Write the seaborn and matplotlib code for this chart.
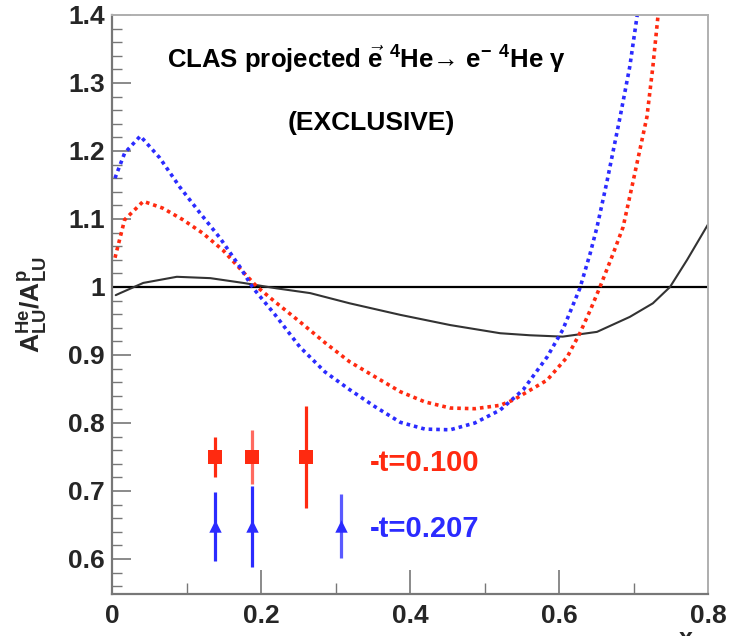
import numpy as np
import pandas as pd
import matplotlib
matplotlib.use("Agg")
import matplotlib.pyplot as plt
from matplotlib.ticker import MultipleLocator
import seaborn as sns

# ---- data ----
blue_x = [0.004, 0.017, 0.038, 0.064, 0.091, 0.118, 0.145, 0.172, 0.189, 0.219, 0.252, 0.286,
          0.319, 0.353, 0.387, 0.420, 0.454, 0.487, 0.521, 0.552, 0.584, 0.605, 0.628, 0.642,
          0.651, 0.664, 0.682, 0.695, 0.705]
blue_y = [1.160, 1.197, 1.222, 1.190, 1.147, 1.109, 1.072, 1.029, 0.999, 0.959, 0.912, 0.875,
          0.849, 0.824, 0.801, 0.791, 0.790, 0.800, 0.819, 0.849, 0.897, 0.937, 0.998, 1.050,
          1.088, 1.153, 1.250, 1.324, 1.400]

red_x = [0.004, 0.017, 0.042, 0.068, 0.095, 0.122, 0.149, 0.176, 0.195, 0.219, 0.252, 0.286,
         0.319, 0.353, 0.387, 0.420, 0.454, 0.487, 0.521, 0.539, 0.584, 0.611, 0.628, 0.642,
         0.655, 0.673, 0.686, 0.699, 0.718, 0.726, 0.733]
red_y = [1.043, 1.099, 1.126, 1.116, 1.099, 1.079, 1.054, 1.022, 1.000, 0.978, 0.949, 0.918,
         0.890, 0.868, 0.846, 0.831, 0.822, 0.821, 0.826, 0.834, 0.863, 0.897, 0.932, 0.966,
         1.000, 1.050, 1.088, 1.153, 1.250, 1.324, 1.400]

black_x = [0.005, 0.011, 0.042, 0.087, 0.132, 0.176, 0.221, 0.266, 0.319, 0.387, 0.454, 0.521,
           0.561, 0.605, 0.651, 0.695, 0.726, 0.749, 0.772, 0.800]
black_y = [0.988, 0.991, 1.006, 1.015, 1.013, 1.006, 0.998, 0.991, 0.976, 0.959, 0.944, 0.932,
           0.929, 0.927, 0.934, 0.956, 0.976, 1.000, 1.040, 1.092]

ref_x = [0.0, 0.8]
ref_y = [1.0, 1.0]

pts_red_x = [0.138, 0.188, 0.261]
pts_red_y = [0.750, 0.750, 0.750]
pts_red_err = [0.030, 0.040, 0.075]

pts_blue_x = [0.138, 0.188, 0.307]
pts_blue_y = [0.648, 0.648, 0.648]
pts_blue_err = [0.051, 0.060, 0.047]

label_red = "-t=0.100"
label_blue = "-t=0.207"
title_line1 = "CLAS projected $\\vec{e}$ $^{4}$He\u2192 e$^{-}$ $^{4}$He \u03b3"
title_line2 = "(EXCLUSIVE)"
ylabel = r"$\mathbf{A^{He}_{LU}/A^{p}_{LU}}$"
xticks = [0.0, 0.2, 0.4, 0.6, 0.8]
xtick_labels = ["0", "0.2", "0.4", "0.6", "0.8"]
yticks = [0.6, 0.7, 0.8, 0.9, 1.0, 1.1, 1.2, 1.3, 1.4]
ytick_labels = ["0.6", "0.7", "0.8", "0.9", "1", "1.1", "1.2", "1.3", "1.4"]

# ---- style ----
sns.set_theme(style="white")
plt.rcParams["font.family"] = ["Liberation Sans", "DejaVu Sans"]
plt.rcParams["font.weight"] = "bold"
plt.rcParams["mathtext.fontset"] = "custom"
plt.rcParams["mathtext.rm"] = "Liberation Sans:bold"
plt.rcParams["mathtext.it"] = "Liberation Sans:bold"
plt.rcParams["mathtext.bf"] = "Liberation Sans:bold"

RED = "#ff2a10"
BLUE = "#2b2bff"
RED_LIGHT = "#ff6a60"
BLUE_LIGHT = "#5a5aff"

fig = plt.figure(figsize=(7.30, 6.36), dpi=100)
ax = fig.add_axes([112 / 730, 1 - 594 / 636, (708 - 112) / 730, (594 - 15) / 636])

df_black = pd.DataFrame({"x": black_x, "y": black_y})
df_ref = pd.DataFrame({"x": ref_x, "y": ref_y})
df_red = pd.DataFrame({"x": red_x, "y": red_y})
df_blue = pd.DataFrame({"x": blue_x, "y": blue_y})

sns.lineplot(data=df_ref, x="x", y="y", ax=ax, color="black", lw=1.6, sort=False)
sns.lineplot(data=df_black, x="x", y="y", ax=ax, color="#333333", lw=1.5, sort=False)
sns.lineplot(data=df_red, x="x", y="y", ax=ax, color=RED, lw=2.6, sort=False,
             linestyle=(0, (1, 1.1)))
sns.lineplot(data=df_blue, x="x", y="y", ax=ax, color=BLUE, lw=2.6, sort=False,
             linestyle=(0, (1, 1.1)))

red_ecols = [RED, RED_LIGHT, RED]
for xv, yv, ev, c in zip(pts_red_x, pts_red_y, pts_red_err, red_ecols):
    ax.errorbar(xv, yv, yerr=ev, fmt="none", ecolor=c, elinewidth=2.3, capsize=0)
sns.scatterplot(x=pts_red_x, y=pts_red_y, ax=ax, marker="s", s=90, color=RED,
                edgecolor=RED, linewidth=0, zorder=5)
blue_ecols = [BLUE, BLUE, BLUE_LIGHT]
for xv, yv, ev, c in zip(pts_blue_x, pts_blue_y, pts_blue_err, blue_ecols):
    ax.errorbar(xv, yv, yerr=ev, fmt="none", ecolor=c, elinewidth=2.3, capsize=0)
sns.scatterplot(x=pts_blue_x, y=pts_blue_y, ax=ax, marker="^", s=80, color=BLUE,
                edgecolor=BLUE, linewidth=0, zorder=5)

ax.set_xlim(0, 0.8)
ax.set_ylim(0.5485, 1.4)
ax.set_xlabel("")
ax.set_ylabel("")

ax.set_xticks(xticks)
ax.set_xticklabels(xtick_labels)
ax.set_yticks(yticks)
ax.set_yticklabels(ytick_labels)
ax.xaxis.set_minor_locator(MultipleLocator(0.1))
ax.yaxis.set_minor_locator(MultipleLocator(0.02))
ax.tick_params(axis="both", which="major", direction="in", labelsize=19, color="#777777",
               width=1.2)
ax.tick_params(axis="y", which="major", length=14, pad=5)
ax.tick_params(axis="x", which="major", length=17, pad=7)
ax.tick_params(axis="y", which="minor", direction="in", length=7, color="#777777", width=1.0)
ax.tick_params(axis="x", which="minor", direction="in", length=8, color="#777777", width=1.0)
ax.tick_params(axis="both", which="both", left=True, bottom=True, top=False, right=False)
for lab in ax.get_xticklabels() + ax.get_yticklabels():
    lab.set_fontweight("bold")

for side in ["left", "bottom"]:
    ax.spines[side].set_color("#777777")
    ax.spines[side].set_linewidth(1.6)
for side in ["top", "right"]:
    ax.spines[side].set_color("#b0b0b0")
    ax.spines[side].set_linewidth(1.4)

ax.text(0.342, 1.334, title_line1, ha="center", va="center", fontsize=18.5, fontweight="bold",
        color="black")
ax.text(0.348, 1.241, title_line2, ha="center", va="center", fontsize=19, fontweight="bold",
        color="black")
ax.text(0.346, 0.741, label_red, ha="left", va="center", fontsize=21, fontweight="bold",
        color=RED)
ax.text(0.346, 0.644, label_blue, ha="left", va="center", fontsize=21, fontweight="bold",
        color=BLUE)

fig.text(33 / 730, 1 - 305 / 636, ylabel, rotation=90, ha="center", va="center", fontsize=19)
fig.text(686 / 730, 1 - 627 / 636, "x", ha="center", va="top", fontsize=18,
         fontweight="bold")

fig.savefig("out.png", dpi=100)
